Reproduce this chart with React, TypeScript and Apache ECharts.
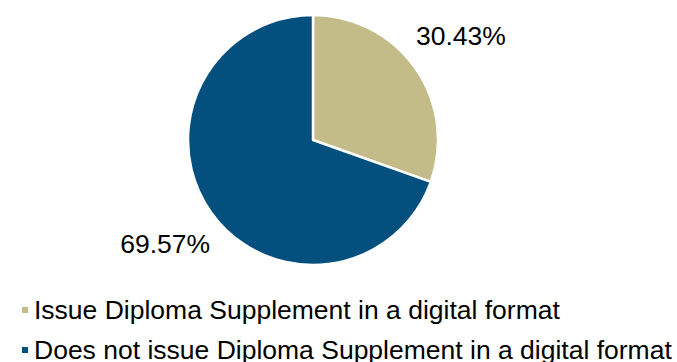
import React, { useEffect, useRef } from "react";
import * as echarts from "echarts";

const categories = [
  "Issue Diploma Supplement in a digital format",
  "Does not issue Diploma Supplement in a digital format",
];
const values = [30.43, 69.57];
const colors = ["#C3BB88", "#03507F"];

export default function App() {
  const ref = useRef<HTMLDivElement>(null);
  useEffect(() => {
    if (!ref.current) return;
    const chart = echarts.init(ref.current, null, { renderer: "svg" });
    const data = categories.map((name, i) => ({ name, value: values[i] }));
    chart.setOption({
      animation: false,
      color: colors,
      legend: {
        orient: "vertical",
        left: 15,
        top: 290,
        height: 120,
        itemWidth: 8,
        itemHeight: 8,
        itemGap: 10,
        icon: "rect",
        selectedMode: false,
        textStyle: {
          fontFamily: "Liberation Sans, Arial, sans-serif",
          fontSize: 26.5,
          lineHeight: 30,
          color: "#000",
        },
        data: categories,
      },
      series: [
        {
          type: "pie",
          center: [313, 140],
          radius: [0, 125],
          startAngle: 90,
          clockwise: true,
          silent: true,
          label: { show: false },
          labelLine: { show: false },
          itemStyle: { borderColor: "#fff", borderWidth: 2.5 },
          data,
        },
        {
          type: "pie",
          center: [313, 140],
          radius: [170, 186],
          startAngle: 90,
          clockwise: true,
          silent: true,
          legendHoverLink: false,
          itemStyle: { color: "transparent", borderWidth: 0 },
          label: {
            show: true,
            position: "inside",
            formatter: (p: any) => p.value.toFixed(2) + "%",
            fontFamily: "Liberation Sans, Arial, sans-serif",
            fontSize: 26.5,
            color: "#000",
          },
          labelLine: { show: false },
          data: data.map((d) => ({ ...d })),
        },
      ],
    });
    return () => chart.dispose();
  }, []);
  return (
    <div
      ref={ref}
      style={{ position: "absolute", left: 0, top: 0, width: 677, height: 362 }}
    />
  );
}
